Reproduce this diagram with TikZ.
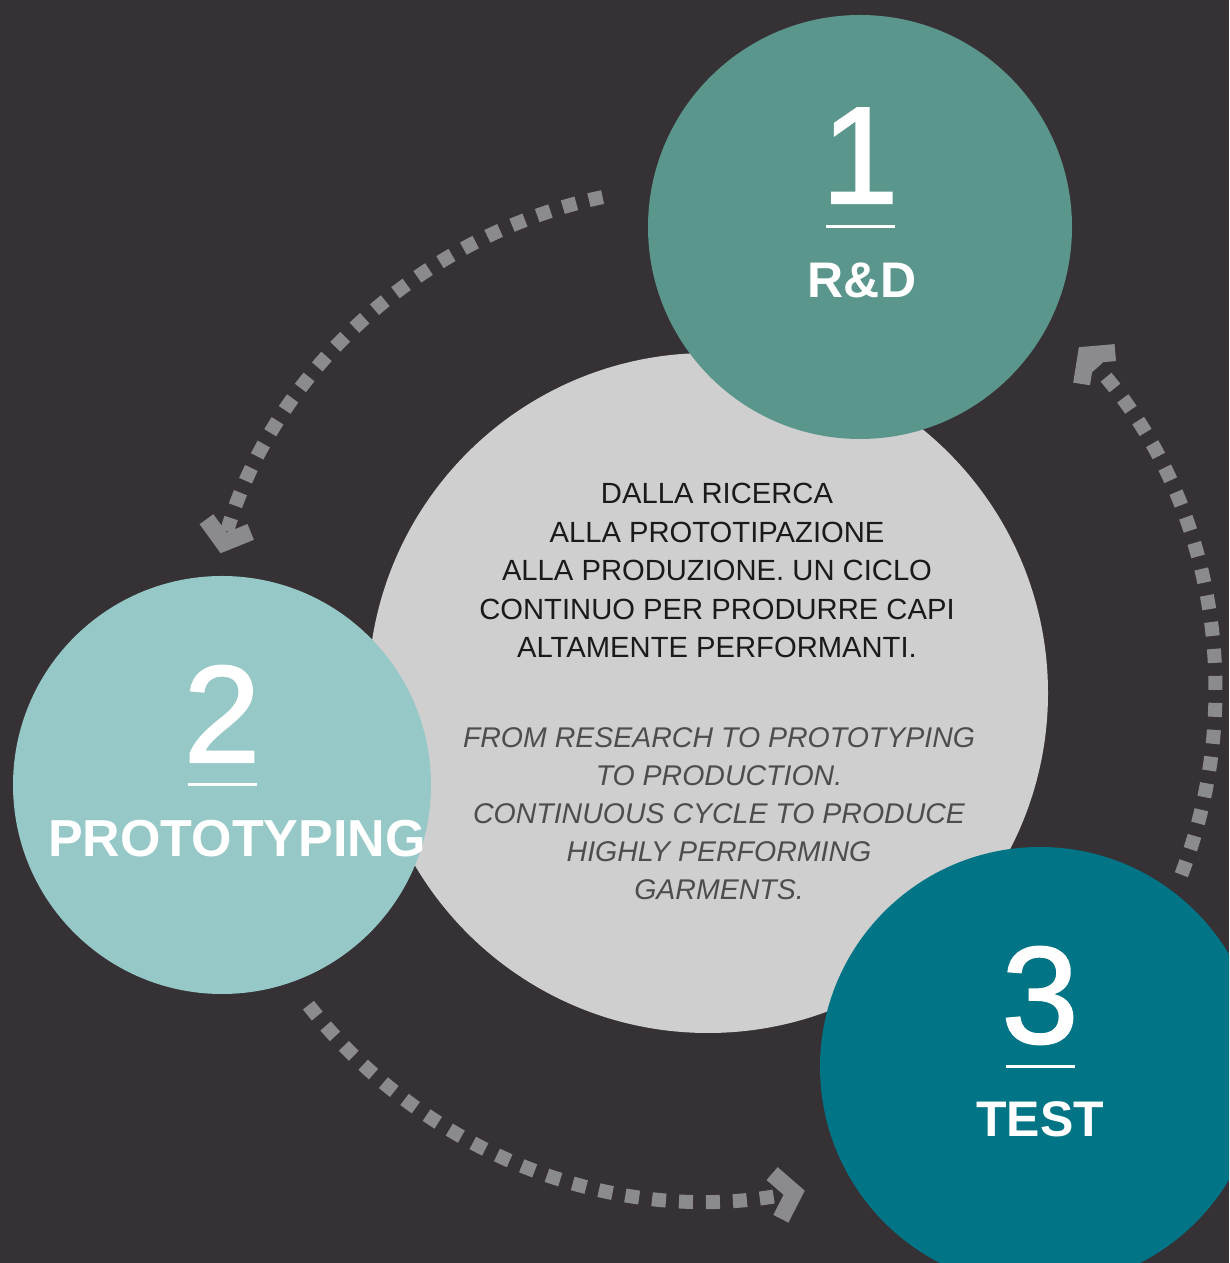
\documentclass[tikz,border=0pt]{standalone}
\usepackage{fontspec}
\setmainfont{Liberation Sans}
\newfontface\numface{Liberation Sans}[FakeBold=1.5]
\usepackage{xcolor}
\usepackage{tikz}
\usetikzlibrary{arrows.meta, calc}

\definecolor{bgdark}{HTML}{353135}
\definecolor{hubgray}{HTML}{CFCFCF}
\definecolor{rdteal}{HTML}{5A968B}
\definecolor{protoaqua}{HTML}{95C8C6}
\definecolor{testteal}{HTML}{017485}
\definecolor{flowgray}{HTML}{8B8B8D}
\definecolor{itink}{HTML}{1A1A1A}
\definecolor{enink}{HTML}{4D4D4D}

\tikzset{
  stage/.style={circle, inner sep=0pt, draw=none},
  bignum/.style={text=white, inner sep=0pt, anchor=base,
    font=\fontsize{138}{138}\numface},
  stagelabel/.style={text=white, inner sep=0pt, anchor=base,
    font=\fontsize{50}{50}\selectfont\bfseries},
  rule/.style={white, line width=3pt},
  flow/.style={flowgray, line width=14pt, dash pattern=on 14pt off 13pt,
    -{Straight Barb[length=18pt, width=46pt, line width=17pt]}},
  itline/.style={text=itink, inner sep=0pt, anchor=base,
    font=\fontsize{29.2}{38.5}\selectfont},
  enline/.style={text=enink, inner sep=0pt, anchor=base,
    font=\fontsize{28.5}{38.5}\selectfont\itshape}
}

\begin{document}
\begin{tikzpicture}[x=1pt,y=1pt]

\useasboundingbox (0,0) rectangle (1229,1263);
\clip (0,0) rectangle (1229,1263);
\fill[bgdark] (0,0) rectangle (1229,1263);

% --- CENTRE DISC ---
\node[stage, fill=hubgray, minimum size=680pt] (hub) at (708,570) {};

% --- CYCLE ARROWS ---
\draw[flow] ($(hub.center)+(102:507)$) arc[start angle=102, end angle=164, radius=507];
\draw[flow] ($(hub.center)+(218:507)$) arc[start angle=218, end angle=281, radius=507];
\draw[flow] ($(hub.center)+(-21:507)$) arc[start angle=-21, end angle=43, radius=507];

% --- STAGES ---
\node[stage, fill=rdteal, minimum size=424pt] (rd) at (860,1036) {};
\node[stage, fill=protoaqua, minimum size=418pt] (proto) at (222,478) {};
\node[stage, fill=testteal, minimum size=440pt] (test) at (1040,196) {};

\node[bignum] (one) at ([yshift=24pt]rd.center) {1};
\draw[rule] ([xshift=-34.5pt]rd.center) -- ([xshift=34.5pt]rd.center);
\node[stagelabel] (rdlabel) at ([xshift=2pt, yshift=-71pt]rd.center) {R\&D};

\node[bignum] (two) at ([yshift=23pt]proto.center) {2};
\draw[rule] ([xshift=-34.5pt]proto.center) -- ([xshift=34.5pt]proto.center);
\node[stagelabel, font=\fontsize{52}{52}\selectfont\bfseries] (protolabel)
  at ([xshift=15pt, yshift=-72pt]proto.center) {PROTOTYPING};

\node[bignum] (three) at ([yshift=24pt]test.center) {3};
\draw[rule] ([xshift=-34.5pt]test.center) -- ([xshift=34.5pt]test.center);
\node[stagelabel] (testlabel) at ([yshift=-70pt]test.center) {TEST};

% --- CENTRE TEXT ---
\foreach \txt [count=\i] in {DALLA RICERCA, ALLA PROTOTIPAZIONE,
    ALLA PRODUZIONE. UN CICLO, CONTINUO PER PRODURRE CAPI, ALTAMENTE PERFORMANTI.} {
  \node[itline] (it\i) at (717,{759-38.5*(\i-1)}) {\txt};
}
\foreach \txt [count=\i] in {FROM RESEARCH TO PROTOTYPING, TO PRODUCTION.,
    CONTINUOUS CYCLE TO PRODUCE, HIGHLY PERFORMING, GARMENTS.} {
  \node[enline] (en\i) at (719,{515-38*(\i-1)}) {\txt};
}

\end{tikzpicture}
\end{document}
